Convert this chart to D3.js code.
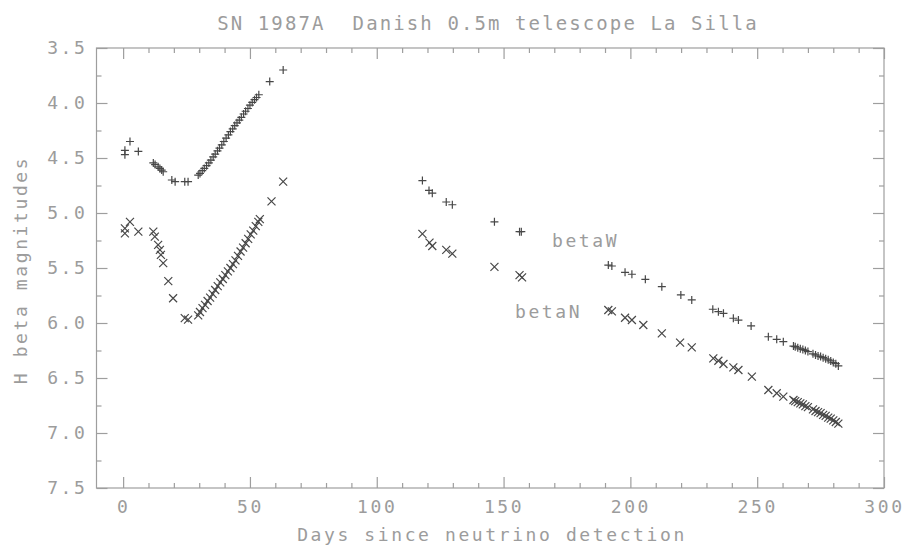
<!DOCTYPE html>
<html lang="en">
<head>
    <meta charset="UTF-8">
    <title>SN 1987A H beta</title>
    <script src="https://cdn.jsdelivr.net/npm/d3@7"></script>
    <style>
        body { margin: 0; background: #fff; }
        text { font-family: "DejaVu Sans Mono", monospace; font-size: 18px; fill: #9c9c9c; letter-spacing: 2.6px; white-space: pre; }
    </style>
</head>
<body>
<script>
    // betaW (plus markers)
    var daysW = [0.7, 0.7, 2.7, 6.0, 11.9, 12.6, 13.8, 14.5, 15.2, 15.8, 19.2, 20.5, 24.3, 25.6,
        29.6, 30.3, 31.2, 32.0, 32.9, 33.8, 34.6, 35.5, 36.3, 37.2, 38.0, 38.9, 39.7, 40.6, 41.5,
        42.3, 43.2, 44.0, 44.9, 45.8, 46.6, 47.5, 48.3, 49.2, 50.0, 50.9, 51.8, 52.6, 53.5, 57.8, 63.1,
        118.0, 120.6, 121.9, 127.4, 129.8, 146.4, 156.3, 157.0,
        191.3, 192.7, 197.9, 200.6, 205.9, 212.4, 219.9, 224.2, 232.5, 234.7, 236.7, 240.6, 242.6,
        247.6, 254.4, 257.7, 260.3,
        264.3, 265, 266, 267, 268, 269, 270, 272, 273, 274, 275, 276, 277, 278, 279, 280, 281, 282];
    var magW = [4.43, 4.47, 4.35, 4.44, 4.545, 4.56, 4.58, 4.595, 4.61, 4.625, 4.70, 4.715, 4.715, 4.715,
        4.655, 4.64, 4.615, 4.595, 4.57, 4.545, 4.52, 4.49, 4.465, 4.435, 4.41, 4.38, 4.35, 4.32, 4.29,
        4.26, 4.235, 4.205, 4.18, 4.155, 4.13, 4.10, 4.075, 4.05, 4.02, 3.995, 3.97, 3.95, 3.925, 3.805, 3.70,
        4.705, 4.795, 4.82, 4.90, 4.925, 5.08, 5.17, 5.17,
        5.473, 5.482, 5.539, 5.557, 5.603, 5.67, 5.745, 5.79, 5.875, 5.897, 5.912, 5.957, 5.973,
        6.027, 6.125, 6.148, 6.17,
        6.21, 6.215, 6.225, 6.235, 6.24, 6.25, 6.26, 6.28, 6.29, 6.30, 6.305, 6.315, 6.325, 6.335, 6.345, 6.36, 6.37, 6.39];

    // betaN (cross markers)
    var daysN = [0.7, 0.7, 2.7, 6.0, 11.9, 12.5, 13.8, 14.5, 14.9, 15.8, 17.8, 19.7, 24.3, 25.6,
        29.6, 30.3, 31.3, 32.3, 33.3, 34.3, 35.3, 36.3, 37.3, 38.3, 39.3, 40.3, 41.3, 42.3, 43.3,
        44.3, 45.3, 46.3, 47.3, 48.3, 49.3, 50.3, 51.3, 52.3, 53.3, 53.9, 58.5, 63.1,
        118.0, 120.8, 121.9, 127.4, 129.8, 146.4, 156.3, 157.3,
        191.3, 192.7, 197.9, 200.6, 205.1, 212.4, 219.6, 224.2, 232.7, 234.7, 236.7, 240.6, 242.6,
        247.9, 254.4, 257.7, 260.3,
        264.3, 265, 266, 267, 268, 269, 270, 272, 273, 274, 275, 276, 277, 278, 279, 280, 281, 282];
    var magN = [5.14, 5.185, 5.08, 5.17, 5.17, 5.215, 5.29, 5.335, 5.38, 5.455, 5.62, 5.775, 5.955, 5.97,
        5.93, 5.90, 5.865, 5.835, 5.80, 5.77, 5.735, 5.70, 5.665, 5.63, 5.60, 5.565, 5.53, 5.50, 5.465,
        5.43, 5.39, 5.35, 5.315, 5.275, 5.235, 5.195, 5.16, 5.12, 5.08, 5.055, 4.895, 4.715,
        5.19, 5.27, 5.30, 5.335, 5.37, 5.49, 5.565, 5.585,
        5.882, 5.895, 5.952, 5.973, 6.018, 6.094, 6.179, 6.221, 6.321, 6.343, 6.373, 6.403, 6.427,
        6.488, 6.609, 6.639, 6.67,
        6.70, 6.71, 6.72, 6.73, 6.74, 6.755, 6.765, 6.785, 6.80, 6.81, 6.82, 6.835, 6.845, 6.86, 6.87, 6.885, 6.90, 6.915];

    var xMajor = [0, 50, 100, 150, 200, 250, 300];
    var xMinor = d3.range(10, 300, 10).filter(function (d) { return d % 50 !== 0; });
    var yMajor = [3.5, 4.0, 4.5, 5.0, 5.5, 6.0, 6.5, 7.0, 7.5];
    var yMinor = [3.75, 4.25, 4.75, 5.25, 5.75, 6.25, 6.75, 7.25];

    var width = 916, height = 546;
    var pLeft = 96.5, pRight = 884, pTop = 48, pBottom = 488;

    var svg = d3.select("body").append("svg")
        .attr("width", width)
        .attr("height", height);

    var x = d3.scaleLinear().domain([-10.5, 300]).range([pLeft, pRight]);
    var y = d3.scaleLinear().domain([3.5, 7.5]).range([pTop, pBottom]);

    var axisColor = "#9e9e9e";

    // frame
    svg.append("rect")
        .attr("x", pLeft).attr("y", pTop)
        .attr("width", pRight - pLeft).attr("height", pBottom - pTop)
        .attr("fill", "none")
        .attr("stroke", axisColor)
        .attr("stroke-width", 1.2);

    function styleAxis(g) {
        g.attr("font-size", null).attr("font-family", null);
        g.select(".domain").remove();
        g.selectAll(".tick line").attr("stroke", axisColor).attr("stroke-width", 1.2);
        g.selectAll(".tick text").attr("fill", null);
    }

    // bottom
    svg.append("g").attr("transform", "translate(0," + pBottom + ")")
        .call(d3.axisBottom(x).tickValues(xMajor).tickSize(-11).tickPadding(12).tickFormat(d3.format("d")))
        .call(styleAxis);
    svg.append("g").attr("transform", "translate(0," + pBottom + ")")
        .call(d3.axisBottom(x).tickValues(xMinor).tickSize(-5).tickFormat(""))
        .call(styleAxis);
    // top
    svg.append("g").attr("transform", "translate(0," + pTop + ")")
        .call(d3.axisTop(x).tickValues(xMajor).tickSize(-11).tickFormat(""))
        .call(styleAxis);
    svg.append("g").attr("transform", "translate(0," + pTop + ")")
        .call(d3.axisTop(x).tickValues(xMinor).tickSize(-5).tickFormat(""))
        .call(styleAxis);
    // left
    svg.append("g").attr("transform", "translate(" + pLeft + ",0)")
        .call(d3.axisLeft(y).tickValues(yMajor).tickSize(-11).tickPadding(9).tickFormat(d3.format(".1f")))
        .call(styleAxis);
    svg.append("g").attr("transform", "translate(" + pLeft + ",0)")
        .call(d3.axisLeft(y).tickValues(yMinor).tickSize(-5).tickFormat(""))
        .call(styleAxis);
    // right
    svg.append("g").attr("transform", "translate(" + pRight + ",0)")
        .call(d3.axisRight(y).tickValues(yMajor).tickSize(-11).tickFormat(""))
        .call(styleAxis);
    svg.append("g").attr("transform", "translate(" + pRight + ",0)")
        .call(d3.axisRight(y).tickValues(yMinor).tickSize(-5).tickFormat(""))
        .call(styleAxis);

    // titles
    svg.append("text")
        .attr("x", 488).attr("y", 30)
        .attr("text-anchor", "middle")
        .style("font-size", "19px")
        .style("letter-spacing", "2.1px")
        .text("SN 1987A  Danish 0.5m telescope La Silla");

    svg.append("text")
        .attr("x", 492).attr("y", 541)
        .attr("text-anchor", "middle")
        .text("Days since neutrino detection");

    svg.append("text")
        .attr("transform", "translate(27,270) rotate(-90)")
        .attr("text-anchor", "middle")
        .text("H beta magnitudes");

    // series labels
    svg.append("text").attr("x", x(169.1)).attr("y", y(5.309)).text("betaW");
    svg.append("text").attr("x", x(154.5)).attr("y", y(5.955)).text("betaN");

    // markers
    var markColor = "#474747";
    var w = d3.zip(daysW, magW);
    var n = d3.zip(daysN, magN);
    var s = 4;

    svg.append("g").selectAll("path")
        .data(w)
        .enter()
        .append("path")
        .attr("d", function (d) {
            var cx = x(d[0]), cy = y(d[1]);
            return "M" + (cx - s) + "," + cy + "H" + (cx + s) + "M" + cx + "," + (cy - s) + "V" + (cy + s);
        })
        .attr("stroke", markColor)
        .attr("stroke-width", 1.2)
        .attr("fill", "none");

    svg.append("g").selectAll("path")
        .data(n)
        .enter()
        .append("path")
        .attr("d", function (d) {
            var cx = x(d[0]), cy = y(d[1]);
            return "M" + (cx - s) + "," + (cy - s) + "L" + (cx + s) + "," + (cy + s) +
                "M" + (cx - s) + "," + (cy + s) + "L" + (cx + s) + "," + (cy - s);
        })
        .attr("stroke", markColor)
        .attr("stroke-width", 1.2)
        .attr("fill", "none");
</script>
</body>
</html>
